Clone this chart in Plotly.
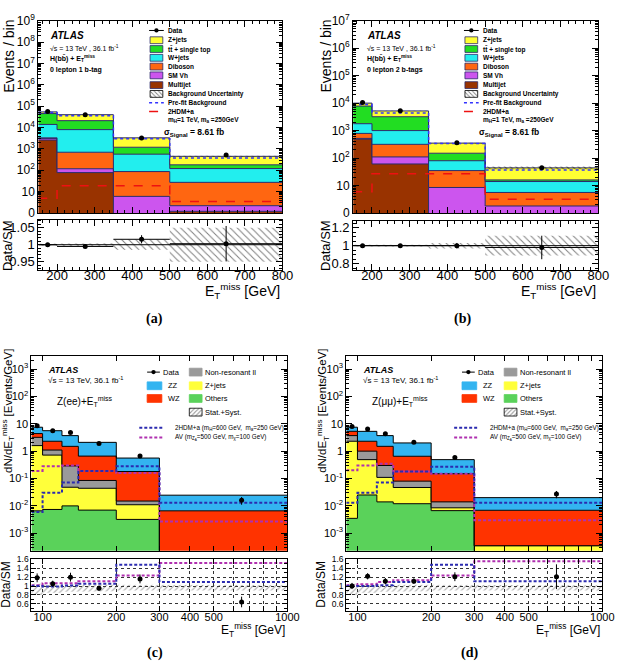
import plotly.graph_objects as go
import numpy as np

W, H = 628, 670
FONT = "Liberation Sans"

# ---------------- data: panels (a), (b) ----------------
edges_ab = [150, 200, 350, 500, 800]
centers_ab = [175, 275, 425, 650]

a_multijet = [2600, 78, 0, 1.2]
a_smvh = [500, 40, 6, 1.0]
a_diboson = [200, 580, 81, 25]
a_wjets = [10700, 7300, 480, 93]
a_ttbar = [31000, 13000, 630, 60]
a_zjets = [9000, 19000, 2100, 270]
a_data = [56000, 40000, 3200, 520]
a_signal = [4.9, 19, 19, 3.5]
a_prefit = [50000, 36000, 3000, 380]
a_ratio = [1.0, 0.995, 1.016, 1.003]
a_ratio_err = [0.002, 0.002, 0.012, 0.052]
a_band = [0.003, 0.004, 0.015, 0.05]

b_multijet = [490, 61, 0, 0]
b_smvh = [30, 49, 8.5, 1.8]
b_diboson = [270, 206, 26.5, 3.8]
b_wjets = [990, 684, 45, 8.4]
b_ttbar = [6020, 2200, 70, 2]
b_zjets = [2200, 2000, 200, 28]
b_data = [10500, 5300, 360, 44]
b_signal = [6, 27, 27, 3.2]
b_prefit = [8900, 4400, 340, 37]
b_ratio = [1.0, 1.0, 1.0, 0.98]
b_ratio_err = [0.01, 0.01, 0.03, 0.13]
b_band = [0.01, 0.01, 0.03, 0.11]

# ---------------- data: panels (c), (d) ----------------
edges_cd = [90, 100, 120, 140, 200, 300, 1000]
centers_cd = [95, 110, 130, 170, 250, 650]

c_others = [0.0066, 0.0074, 0.01, 0.007, 0.0032, 0]
c_zjets = [1.59, 0.71, 0.038, 0.037, 0.0078, 0]
c_nonres = [1.6, 0.38, 0.24, 0.041, 0.004, 0]
c_wz = [1.2, 1.2, 1.21, 0.575, 0.165, 0.0066]
c_zz = [3.1, 3.3, 2.2, 1.44, 0.38, 0.018]
c_data = [8.5, 5.6, 4.8, 1.9, 0.66, 0.016]
c_data_err = [0.9, 0.5, 0.5, 0.12, 0.07, 0.005]
c_2hdma = [0.006, 0.03, 0.072, 0.19, 0.28, 0.013]
c_av = [0.19, 0.28, 0.3, 0.19, 0.16, 0.0027]
c_ratio = [1.185, 1.05, 1.2, 0.95, 1.16, 0.64]
c_ratio_err = [0.1, 0.07, 0.1, 0.06, 0.1, 0.12]
c_ratio_2hdma = [1.0, 0.99, 1.01, 1.05, 1.48, 1.09]
c_ratio_av = [1.02, 1.06, 1.06, 1.11, 1.24, 1.52]
c_band_lo = [0.8, 0.85, 0.87, 0.88, 0.9, 0.9]
c_band_hi = [1.05, 1.03, 1.03, 1.02, 1.02, 1.02]

d_others = [0.0035, 0.025, 0.014, 0.012, 0.0067, 0]
d_zjets = [2.3, 0.465, 0.096, 0.035, 0.0018, 0.00035]
d_nonres = [1.4, 0.51, 0.19, 0.033, 0.0055, 0]
d_wz = [1.6, 1.3, 1.2, 0.57, 0.136, 0.00655]
d_zz = [2.2, 3.0, 2.2, 1.35, 0.34, 0.0131]
d_data = [7.9, 6.5, 4.3, 2.1, 0.59, 0.027]
d_data_err = [0.9, 0.5, 0.5, 0.12, 0.07, 0.008]
d_2hdma = [0.013, 0.03, 0.072, 0.18, 0.27, 0.013]
d_av = [0.2, 0.3, 0.35, 0.18, 0.15, 0.003]
d_ratio = [1.0, 1.22, 1.11, 1.11, 1.21, 1.21]
d_ratio_err = [0.07, 0.07, 0.07, 0.06, 0.1, 0.28]
d_ratio_2hdma = [1.0, 1.0, 1.02, 1.09, 1.48, 1.11]
d_ratio_av = [1.02, 1.04, 1.09, 1.13, 1.24, 1.56]
d_band_lo = [0.8, 0.85, 0.87, 0.88, 0.9, 0.9]
d_band_hi = [1.05, 1.03, 1.03, 1.02, 1.02, 1.02]

# ---------------- labels ----------------
ab_names = ["Data", "Z+jets", "tt\u0304 + single top", "W+jets", "Diboson", "SM Vh", "Multijet",
            "Background Uncertainty", "Pre-fit Background", "2HDM+a"]
ab_colors = {"Z+jets": "#ffff33", "ttbar": "#22dd22", "W+jets": "#22eeee",
             "Diboson": "#ff6611", "SM Vh": "#cc55ee", "Multijet": "#993300"}
cd_colors = {"ZZ": "#33b4f0", "WZ": "#ff3300", "Non": "#9a9a9a", "Zjets": "#ffff3a", "Others": "#5ad25a"}
SIG_RED = "#ee1111"
PREFIT_BLUE = "#3333ff"
C_2HDM = "#2b2bb0"
C_AV = "#b030b0"
AB_EDGE = "#2a2a6a"

fig = go.Figure()


def step_y(vals):
    v = list(vals)
    return v + [v[-1]]


def add_stack(edges, comps, colors, linecol, xa, ya, floor):
    fig.add_trace(go.Scatter(x=edges, y=[floor] * len(edges), mode="lines",
                             line=dict(width=0, shape="hv"), xaxis=xa, yaxis=ya,
                             showlegend=False, hoverinfo="skip"))
    cum = np.zeros(len(edges) - 1)
    for vals, col in zip(comps, colors):
        cum = cum + np.array(vals, float)
        y = np.maximum(cum, floor)
        fig.add_trace(go.Scatter(x=edges, y=step_y(y), mode="lines",
                                 line=dict(color=linecol, width=1, shape="hv"),
                                 fill="tonexty", fillcolor=col, xaxis=xa, yaxis=ya,
                                 showlegend=False, hoverinfo="skip"))
    return cum


def band_poly(edges, lo, hi):
    xs, ys = [], []
    for i in range(len(lo)):
        xs += [edges[i], edges[i + 1]]
        ys += [hi[i], hi[i]]
    for i in reversed(range(len(lo))):
        xs += [edges[i + 1], edges[i]]
        ys += [lo[i], lo[i]]
    xs.append(xs[0]); ys.append(ys[0])
    return xs, ys


def add_band(edges, lo, hi, xa, ya, shape="\\", color="black", size=5, sol=0.2):
    xs, ys = band_poly(edges, lo, hi)
    fig.add_trace(go.Scatter(x=xs, y=ys, mode="lines", line=dict(width=0),
                             fill="toself", fillcolor="rgba(0,0,0,0)",
                             fillpattern=dict(shape=shape, fgcolor=color, bgcolor="rgba(0,0,0,0)",
                                              size=size, solidity=sol, fillmode="overlay"),
                             xaxis=xa, yaxis=ya, showlegend=False, hoverinfo="skip"))


def add_stepline(edges, vals, color, dash, width, xa, ya):
    fig.add_trace(go.Scatter(x=edges, y=step_y(vals), mode="lines",
                             line=dict(color=color, width=width, dash=dash, shape="hv"),
                             xaxis=xa, yaxis=ya, showlegend=False, hoverinfo="skip"))


def add_points(x, y, ey, xa, ya, ex=None, size=5):
    kw = {}
    if ex is not None:
        kw["error_x"] = dict(type="data", array=ex, visible=True, color="black", thickness=1, width=0)
    fig.add_trace(go.Scatter(x=x, y=y, mode="markers",
                             marker=dict(color="black", size=size),
                             error_y=dict(type="data", array=ey, visible=True, color="black",
                                          thickness=1, width=0),
                             xaxis=xa, yaxis=ya, showlegend=False, hoverinfo="skip", **kw))


# ---------------- panels (a) and (b) ----------------
def panel_ab(mj, vh, dib, wj, tt, zj, data, sig, prefit, ratio, rerr, band, xm, ym, xr, yr):
    comps = [mj, vh, dib, wj, tt, zj]
    cols = [ab_colors["Multijet"], ab_colors["SM Vh"], ab_colors["Diboson"],
            ab_colors["W+jets"], ab_colors["ttbar"], ab_colors["Z+jets"]]
    tot = add_stack(edges_ab, comps, cols, AB_EDGE, xm, ym, 1e-2)
    b = np.array(band)
    add_band(edges_ab, tot * (1 - b), tot * (1 + b), xm, ym, size=4, sol=0.25)
    add_stepline(edges_ab, prefit, PREFIT_BLUE, "dot", 1.5, xm, ym)
    add_stepline(edges_ab, sig, SIG_RED, "dash", 1.5, xm, ym)
    add_points(centers_ab, data, [0] * len(data), xm, ym)
    # ratio
    add_band(edges_ab, [1 - v for v in band], [1 + v for v in band], xr, yr, size=5, sol=0.2)
    fig.add_trace(go.Scatter(x=[edges_ab[0], edges_ab[-1]], y=[1, 1], mode="lines",
                             line=dict(color="black", width=1), xaxis=xr, yaxis=yr,
                             showlegend=False, hoverinfo="skip"))
    halfw = [(edges_ab[i + 1] - edges_ab[i]) / 2 for i in range(len(centers_ab))]
    add_points(centers_ab, ratio, rerr, xr, yr, ex=halfw, size=5)


panel_ab(a_multijet, a_smvh, a_diboson, a_wjets, a_ttbar, a_zjets, a_data, a_signal, a_prefit,
         a_ratio, a_ratio_err, a_band, "x", "y", "x2", "y2")
panel_ab(b_multijet, b_smvh, b_diboson, b_wjets, b_ttbar, b_zjets, b_data, b_signal, b_prefit,
         b_ratio, b_ratio_err, b_band, "x3", "y3", "x4", "y4")


# ---------------- panels (c) and (d) ----------------
def panel_cd(oth, zj, non, wz, zz, data, derr, s1, s2, ratio, rerr, r1, r2, blo, bhi, xm, ym, xr, yr):
    comps = [oth, zj, non, wz, zz]
    cols = [cd_colors["Others"], cd_colors["Zjets"], cd_colors["Non"], cd_colors["WZ"], cd_colors["ZZ"]]
    add_stack(edges_cd, comps, cols, "black", xm, ym, 1e-6)
    add_stepline(edges_cd, s2, C_AV, "3px,2px", 2, xm, ym)
    add_stepline(edges_cd, s1, C_2HDM, "3px,2px", 2, xm, ym)
    add_points(centers_cd, data, derr, xm, ym, size=5)
    add_band(edges_cd, blo, bhi, xr, yr, shape="/", color="#444444", size=4, sol=0.25)
    add_stepline(edges_cd, r2, C_AV, "3px,2px", 2, xr, yr)
    add_stepline(edges_cd, r1, C_2HDM, "3px,2px", 2, xr, yr)
    add_points(centers_cd, ratio, rerr, xr, yr, size=5)


panel_cd(c_others, c_zjets, c_nonres, c_wz, c_zz, c_data, c_data_err, c_2hdma, c_av,
         c_ratio, c_ratio_err, c_ratio_2hdma, c_ratio_av, c_band_lo, c_band_hi, "x5", "y5", "x6", "y6")
panel_cd(d_others, d_zjets, d_nonres, d_wz, d_zz, d_data, d_data_err, d_2hdma, d_av,
         d_ratio, d_ratio_err, d_ratio_2hdma, d_ratio_av, d_band_lo, d_band_hi, "x7", "y7", "x8", "y8")

# ---------------- axes ----------------
def dom_x(a, b):
    return [a / W, b / W]


def dom_y(top, bottom):
    return [1 - bottom / H, 1 - top / H]


def axis(domain, rng, anchor, typ="linear", tickvals=None, ticktext=None, labels=True, size=12,
         minor=None, grid=False, ticklen=6, standoff=0):
    d = dict(domain=domain, range=rng, anchor=anchor, type=typ, showline=True, linecolor="black",
             linewidth=1, mirror="ticks", ticks="inside", ticklen=ticklen, tickcolor="black",
             tickwidth=1, showgrid=grid, zeroline=False, showticklabels=labels, tickangle=0,
             tickfont=dict(size=size, family=FONT, color="black"), fixedrange=True,
             ticklabelstandoff=standoff)
    if tickvals is not None:
        d.update(tickmode="array", tickvals=tickvals, ticktext=ticktext)
    if minor is not None:
        d["minor"] = minor
    if grid:
        d.update(gridcolor="#333333", griddash="dot", gridwidth=0.6)
    return d


def logminor(lo, hi):
    return [m * 10.0 ** k for k in range(lo, hi) for m in range(2, 10)]


xt_ab = [200, 300, 400, 500, 600, 700, 800]
xt_ab_text = [str(v) for v in xt_ab]
ya_vals = [10.0 ** k for k in range(0, 10)]
ya_text = ["0", "10"] + ["10<sup>%d</sup>" % k for k in range(2, 10)]
yb_vals = [10.0 ** k for k in range(0, 8)]
yb_text = ["0", "10"] + ["10<sup>%d</sup>" % k for k in range(2, 8)]
ycd_vals = [10.0 ** k for k in range(-3, 4)]
ycd_text = ["10<sup>-3</sup>", "10<sup>-2</sup>", "10<sup>-1</sup>", "1", "10",
            "10<sup>2</sup>", "10<sup>3</sup>"]
xcd_vals = [100, 200, 300, 400, 500, 600, 700, 800, 900, 1000]
xcd_text = ["100", "200", "300", "400", "500", "", "", "", "", "1000"]
rcd_vals = [0.6, 0.8, 1.0, 1.2, 1.4, 1.6]
rcd_text = ["0.6", "0.8", "1", "1.2", "1.4", "1.6"]

mn_lin20 = dict(ticks="inside", ticklen=3, tickcolor="black", dtick=20, tick0=0)
mn_log = lambda lo, hi: dict(ticks="inside", ticklen=3, tickcolor="black", tickmode="array",
                             tickvals=logminor(lo, hi))

lay = dict(
    width=W, height=H, margin=dict(l=0, r=0, t=0, b=0),
    paper_bgcolor="white", plot_bgcolor="rgba(0,0,0,0)", showlegend=False,
    font=dict(family=FONT, color="black"),
    # (a)
    xaxis=axis(dom_x(39, 288), [150, 800], "y", tickvals=xt_ab, ticktext=xt_ab_text, labels=False,
               minor=mn_lin20),
    yaxis=axis(dom_y(12, 209), [0, 9], "x", typ="log", tickvals=ya_vals, ticktext=ya_text,
               size=12, minor=mn_log(0, 9)),
    xaxis2=axis(dom_x(39, 288), [150, 800], "y2", tickvals=xt_ab, ticktext=xt_ab_text, size=13,
                minor=mn_lin20, standoff=-6),
    yaxis2=axis(dom_y(216, 267), [0.927, 1.073], "x2", tickvals=[0.95, 1.0, 1.05],
                ticktext=["0.95", "1", "1.05"], size=13,
                minor=dict(ticks="inside", ticklen=3, tickcolor="black", dtick=0.01, tick0=0)),
    # (b)
    xaxis3=axis(dom_x(360, 610), [150, 800], "y3", tickvals=xt_ab, ticktext=xt_ab_text, labels=False,
                minor=mn_lin20),
    yaxis3=axis(dom_y(12, 209), [0, 7], "x3", typ="log", tickvals=yb_vals, ticktext=yb_text,
                size=12, minor=mn_log(0, 7)),
    xaxis4=axis(dom_x(360, 610), [150, 800], "y4", tickvals=xt_ab, ticktext=xt_ab_text, size=13,
                minor=mn_lin20, standoff=-6),
    yaxis4=axis(dom_y(217, 267), [0.735, 1.275], "x4", tickvals=[0.8, 1.0, 1.2],
                ticktext=["0.8", "1", "1.2"], size=13,
                minor=dict(ticks="inside", ticklen=3, tickcolor="black", dtick=0.05, tick0=0)),
    # (c)
    xaxis5=axis(dom_x(32, 293), [np.log10(90), 3], "y5", typ="log", tickvals=xcd_vals,
                ticktext=xcd_text, labels=False, ticklen=5),
    yaxis5=axis(dom_y(356, 555), [-3.64, 3.46], "x5", typ="log", tickvals=ycd_vals,
                ticktext=ycd_text, size=11, minor=mn_log(-4, 4), ticklen=6),
    xaxis6=axis(dom_x(32, 293), [np.log10(90), 3], "y6", typ="log", tickvals=xcd_vals,
                ticktext=xcd_text, size=11, grid=True, ticklen=5, standoff=-4),
    yaxis6=axis(dom_y(563, 617), [0.43, 1.62], "x6", tickvals=rcd_vals, ticktext=rcd_text,
                size=8.5, grid=True, ticklen=5,
                minor=dict(ticks="inside", ticklen=3, tickcolor="black", dtick=0.1, tick0=0)),
    # (d)
    xaxis7=axis(dom_x(353, 614), [np.log10(90), 3], "y7", typ="log", tickvals=xcd_vals,
                ticktext=xcd_text, labels=False, ticklen=5),
    yaxis7=axis(dom_y(356, 555), [-3.64, 3.46], "x7", typ="log", tickvals=ycd_vals,
                ticktext=ycd_text, size=11, minor=mn_log(-4, 4), ticklen=6),
    xaxis8=axis(dom_x(353, 614), [np.log10(90), 3], "y8", typ="log", tickvals=xcd_vals,
                ticktext=xcd_text, size=11, grid=True, ticklen=5, standoff=-4),
    yaxis8=axis(dom_y(563, 617), [0.43, 1.62], "x8", tickvals=rcd_vals, ticktext=rcd_text,
                size=8.5, grid=True, ticklen=5,
                minor=dict(ticks="inside", ticklen=3, tickcolor="black", dtick=0.1, tick0=0)),
    # overlay in pixel coordinates for legend swatches
    xaxis9=dict(domain=[0, 1], range=[0, W], anchor="y9", visible=False, fixedrange=True),
    yaxis9=dict(domain=[0, 1], range=[H, 0], anchor="x9", visible=False, fixedrange=True),
)

shapes = []
annots = []


def px(x):
    return x / W


def py(y):
    return 1 - y / H


def rect(x0, y0, x1, y1, fill, line="black", lw=0.8):
    shapes.append(dict(type="rect", xref="paper", yref="paper", x0=px(x0), x1=px(x1),
                       y0=py(y1), y1=py(y0), fillcolor=fill, line=dict(color=line, width=lw)))


def hline(x0, x1, y, color, dash="solid", lw=1):
    shapes.append(dict(type="line", xref="paper", yref="paper", x0=px(x0), x1=px(x1),
                       y0=py(y), y1=py(y), line=dict(color=color, width=lw, dash=dash)))


def dot(x, y, r=2.2):
    shapes.append(dict(type="circle", xref="paper", yref="paper", x0=px(x - r), x1=px(x + r),
                       y0=py(y + r), y1=py(y - r), fillcolor="black", line=dict(color="black", width=0)))


def text(x, y, s, size, anchor="left", family=FONT, angle=0, yanchor="middle"):
    annots.append(dict(xref="paper", yref="paper", x=px(x), y=py(y), text=s, showarrow=False,
                       xanchor=anchor, yanchor=yanchor, textangle=angle,
                       font=dict(size=size, family=family, color="black")))


def hatch_box(x0, y0, x1, y1, shape, color, size, sol):
    fig.add_trace(go.Scatter(x=[x0, x1, x1, x0, x0], y=[y0, y0, y1, y1, y0], mode="lines",
                             line=dict(color="black", width=0.8), fill="toself",
                             fillcolor="rgba(0,0,0,0)",
                             fillpattern=dict(shape=shape, fgcolor=color, bgcolor="white",
                                              size=size, solidity=sol),
                             xaxis="x9", yaxis="y9", showlegend=False, hoverinfo="skip"))


# ---------- legends / labels for (a),(b) ----------
leg_y = [22, 32, 41, 50, 59, 68, 78, 87, 96, 105]
box_cols = [ab_colors["Z+jets"], ab_colors["ttbar"], ab_colors["W+jets"], ab_colors["Diboson"],
            ab_colors["SM Vh"], ab_colors["Multijet"]]
for off, sub, tag in [(0, "0 lepton 1 b-tag", "(a)"), (321, "0 lepton 2 b-tags", "(b)")]:
    mx0, mx1, tx = 152 + off, 167 + off, 169 + off
    hline(mx0, mx1, leg_y[0], "black", lw=1)
    dot((mx0 + mx1) / 2, leg_y[0])
    for i, c in enumerate(box_cols):
        rect(mx0 + 1, leg_y[i + 1] - 3.5, mx1 - 1, leg_y[i + 1] + 3.5, c, line=AB_EDGE)
    hatch_box(mx0 + 1, leg_y[7] - 3.5, mx1 - 1, leg_y[7] + 3.5, "\\", "black", 3, 0.3)
    hline(mx0, mx1, leg_y[8], PREFIT_BLUE, dash="dot", lw=1.5)
    hline(mx0, mx1, leg_y[9], SIG_RED, dash="dash", lw=1.5)
    for i, nm in enumerate(ab_names):
        text(tx, leg_y[i], "<b>%s</b>" % nm, 6.5)
    text(tx, 114, "<b>m<sub>H</sub>=1 TeV, m<sub>a</sub> =250GeV</b>", 6.5)
    text(tx - 4, 127, "<b>\u03c3<sub>Signal</sub> = 8.61 fb</b>", 8.5)
    ax0 = 49 + off + (2 if off else 0)
    text(ax0, 27, "<b><i>ATLAS</i></b>", 10)
    text(ax0, 40, "\u221as = 13 TeV , 36.1 fb<sup>-1</sup>", 7)
    text(ax0, 51, "<b>H(bb\u0304) + E<sub>T</sub><sup>miss</sup></b>", 7)
    text(ax0, 62, "<b>%s</b>" % sub, 7)
    # axis titles
    text(9 + off + (2 if off else 0), 48, "Events / bin", 14, anchor="center", angle=-90)
    text(7 + off + (4 if off else 0), 242, "Data/SM", 13, anchor="center", angle=-90)
    text(288 + off + (1 if off else 0), 289, "E<sub>T</sub><sup>miss</sup> [GeV]", 14, anchor="right")
    text(157 + off - 7 if off else 157, 318, "<b>%s</b>" % tag, 14, anchor="center",
         family="Liberation Serif")

# ---------- legends / labels for (c),(d) ----------
for off, chan, tag in [(0, "Z(ee)+E<sub>T</sub><sup>miss</sup>", "(c)"),
                       (321, "Z(\u03bc\u03bc)+E<sub>T</sub><sup>miss</sup>", "(d)")]:
    # column 1
    hline(150 + off, 163 + off, 372, "black", lw=1)
    dot(156.5 + off, 372)
    text(164 + off, 372, "Data", 7.5)
    rect(150 + off, 382, 165 + off, 390, cd_colors["ZZ"], line=cd_colors["ZZ"])
    text(169 + off, 386, "ZZ", 7.5)
    rect(150 + off, 395, 165 + off, 403, cd_colors["WZ"], line=cd_colors["WZ"])
    text(169 + off, 399, "WZ", 7.5)
    # column 2
    rect(193 + off, 368, 206 + off, 376, cd_colors["Non"], line=cd_colors["Non"])
    text(207 + off, 372, "Non-resonant ll", 7.5)
    rect(193 + off, 382, 206 + off, 390, cd_colors["Zjets"], line=cd_colors["Zjets"])
    text(207 + off, 386, "Z+jets", 7.5)
    rect(193 + off, 395, 206 + off, 403, cd_colors["Others"], line=cd_colors["Others"])
    text(207 + off, 399, "Others", 7.5)
    hatch_box(193 + off, 409, 206 + off, 417, "/", "#333333", 3, 0.35)
    text(207 + off, 413, "Stat.+Syst.", 7.5)
    # signals
    hline(142 + off, 167 + off, 429, C_2HDM, dash="3px,2px", lw=2)
    text(176 + off, 429, "2HDM+a (m<sub>H</sub>=600 GeV,  m<sub>a</sub>=250 GeV)", 6.3)
    hline(142 + off, 167 + off, 439, C_AV, dash="3px,2px", lw=2)
    text(176 + off, 439, "AV (m<sub>Z<sub>A</sub></sub>=500 GeV, m<sub>\u03c7</sub>=100 GeV)", 6.3)
    # labels
    text(47 + off, 370, "<b><i>ATLAS</i></b>", 9)
    text(47 + off, 380, "\u221as = 13 TeV, 36.1 fb<sup>-1</sup>", 8)
    text(56 + off, 402, chan, 10)
    text(8 + off, 412, "dN/dE<sub>T</sub><sup>miss</sup> [Events/GeV]", 11.5, anchor="center", angle=-90)
    text(6 + off, 589, "Data/SM", 12, anchor="center", angle=-90)
    text(293 + off, 636, "E<sub>T</sub><sup>miss</sup> [GeV]", 12, anchor="right")
    text(158 + off, 660, "<b>%s</b>" % tag, 14, anchor="center", family="Liberation Serif")

lay["shapes"] = shapes
lay["annotations"] = annots
fig.update_layout(**lay)
fig.write_html("out.html")
